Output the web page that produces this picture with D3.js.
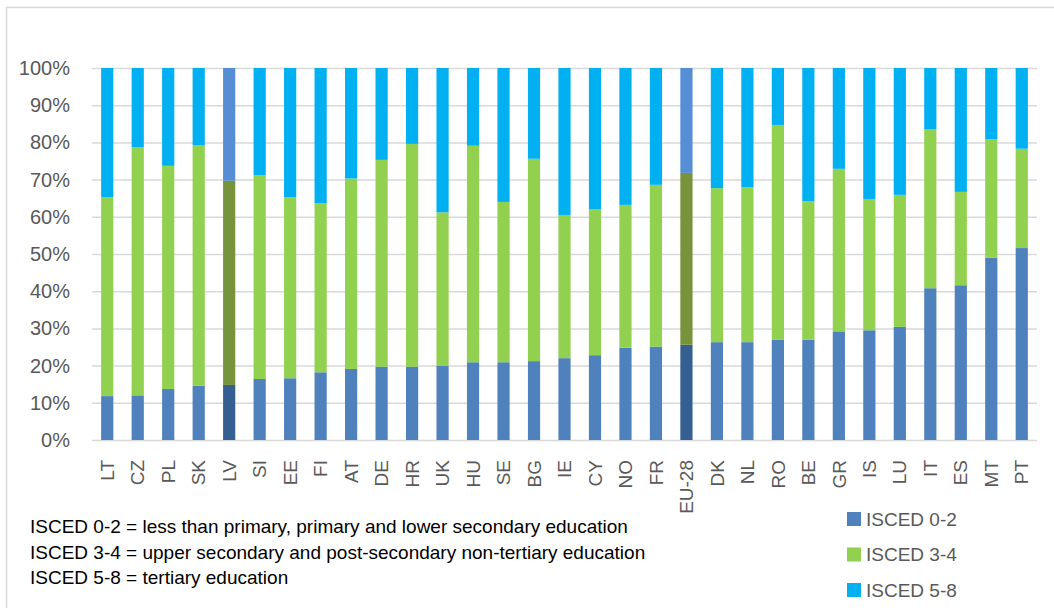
<!DOCTYPE html>
<html>
<head>
<meta charset="utf-8">
<script src="https://cdn.jsdelivr.net/npm/d3@7"></script>
<style>
  body { margin: 0; background: #fff; }
  svg { display: block; font-family: "Liberation Sans", Arial, sans-serif; }
</style>
</head>
<body>
<script>
// countries, sorted by share of ISCED 0-2
var countries = ["LT", "CZ", "PL", "SK", "LV", "SI", "EE", "FI", "AT", "DE", "HR", "UK", "HU", "SE", "BG",
  "IE", "CY", "NO", "FR", "EU-28", "DK", "NL", "RO", "BE", "GR", "IS", "LU", "IT", "ES", "MT", "PT"];

// shares in %
var isced02 = [11.8, 12.0, 13.7, 14.6, 14.8, 16.4, 16.6, 18.2, 19.1, 19.7, 19.7, 19.9, 20.9, 20.9, 21.2,
  22.0, 22.8, 24.8, 25.1, 25.6, 26.3, 26.3, 26.9, 27.0, 29.2, 29.5, 30.4, 40.8, 41.6, 49.0, 51.6];
var isced34 = [53.5, 66.7, 60.0, 64.7, 54.9, 54.8, 48.7, 45.4, 51.2, 55.6, 59.9, 41.3, 58.2, 43.1, 54.4,
  38.5, 39.3, 38.4, 43.5, 46.2, 41.4, 41.7, 57.8, 37.2, 43.7, 35.3, 35.5, 42.8, 25.1, 31.9, 26.7];
var isced58 = [34.7, 21.3, 26.3, 20.7, 30.3, 28.8, 34.7, 36.4, 29.7, 24.7, 20.4, 38.8, 20.9, 36.0, 24.4,
  39.5, 37.9, 36.8, 31.4, 28.2, 32.3, 32.0, 15.3, 35.8, 27.1, 35.2, 34.1, 16.4, 33.3, 19.1, 21.7];

var yTicks = [0, 10, 20, 30, 40, 50, 60, 70, 80, 90, 100];
var seriesNames = ["ISCED 0-2", "ISCED 3-4", "ISCED 5-8"];
var highlighted = ["LV", "EU-28"];
var notes = [
  "ISCED 0-2 = less than primary, primary and lower secondary education",
  "ISCED 3-4 = upper secondary and post-secondary non-tertiary education",
  "ISCED 5-8 = tertiary education"
];

var colors = ["#4f81bd", "#92d050", "#00b0f0"];
var darkColors = ["#355f91", "#77933c", "#558ed5"];

var width = 1054, height = 608;
var plot = {left: 92, right: 1037, top: 68, bottom: 440};

var svg = d3.select("body").append("svg")
    .attr("width", width)
    .attr("height", height);

// chart frame
svg.append("rect")
    .attr("x", 6.5).attr("y", 7.5)
    .attr("width", 1100).attr("height", 700)
    .attr("fill", "none")
    .attr("stroke", "#d9d9d9")
    .attr("stroke-width", 1.5);

var rows = countries.map(function(c, i) {
  return {country: c, a: isced02[i], b: isced34[i], c: isced58[i]};
});
var stack = d3.stack().keys(["a", "b", "c"]);
var layers = stack(rows);

var x = d3.scaleBand()
    .domain(countries)
    .range([plot.left, plot.right])
    .paddingInner(0.6)
    .paddingOuter(0.3);

var y = d3.scaleLinear()
    .domain([0, 100])
    .range([plot.bottom, plot.top]);

// gridlines + y labels
var yAxis = d3.axisLeft(y)
    .tickValues(yTicks)
    .tickSize(-(plot.right - plot.left))
    .tickPadding(22)
    .tickFormat(function(d) { return d + "%"; });

var gy = svg.append("g")
    .attr("transform", "translate(" + plot.left + ",0)")
    .call(yAxis);
gy.select(".domain").remove();
gy.selectAll("line").attr("stroke", "#d9d9d9").attr("stroke-width", 1.5);
gy.selectAll("text")
    .attr("fill", "#595959")
    .style("font-size", "20px");

// bars
svg.selectAll(".layer")
    .data(layers)
  .enter().append("g")
    .attr("class", "layer")
    .each(function(layer, k) {
      d3.select(this).selectAll("rect")
          .data(layer)
        .enter().append("rect")
          .attr("x", function(d) { return x(d.data.country); })
          .attr("width", x.bandwidth())
          .attr("y", function(d) { return y(d[1]); })
          .attr("height", function(d) { return y(d[0]) - y(d[1]); })
          .attr("fill", function(d) {
            return highlighted.indexOf(d.data.country) >= 0 ? darkColors[k] : colors[k];
          });
    });

// x labels
var xAxis = d3.axisBottom(x).tickSize(0).tickPadding(0);
var gx = svg.append("g")
    .attr("transform", "translate(0," + plot.bottom + ")")
    .call(xAxis);
gx.select(".domain").remove();
gx.selectAll("text")
    .attr("fill", "#595959")
    .style("font-size", "19px")
    .attr("transform", "rotate(-90)")
    .attr("text-anchor", "end")
    .attr("x", -20)
    .attr("y", 0)
    .attr("dy", "0.35em");

// notes
svg.selectAll(".note")
    .data(notes)
  .enter().append("text")
    .attr("class", "note")
    .attr("x", 30)
    .attr("y", function(d, i) { return 533 + i * 25.5; })
    .attr("fill", "#000")
    .style("font-size", "19px")
    .text(function(d) { return d; });

// legend
var legend = svg.selectAll(".legend")
    .data(seriesNames)
  .enter().append("g")
    .attr("class", "legend")
    .attr("transform", function(d, i) { return "translate(847," + (519 + i * 35.5) + ")"; });

legend.append("rect")
    .attr("x", 0).attr("y", -7)
    .attr("width", 14).attr("height", 14)
    .attr("fill", function(d, i) { return colors[i]; });

legend.append("text")
    .attr("x", 19)
    .attr("dy", "0.35em")
    .attr("fill", "#595959")
    .style("font-size", "19px")
    .text(function(d) { return d; });
</script>
</body>
</html>
